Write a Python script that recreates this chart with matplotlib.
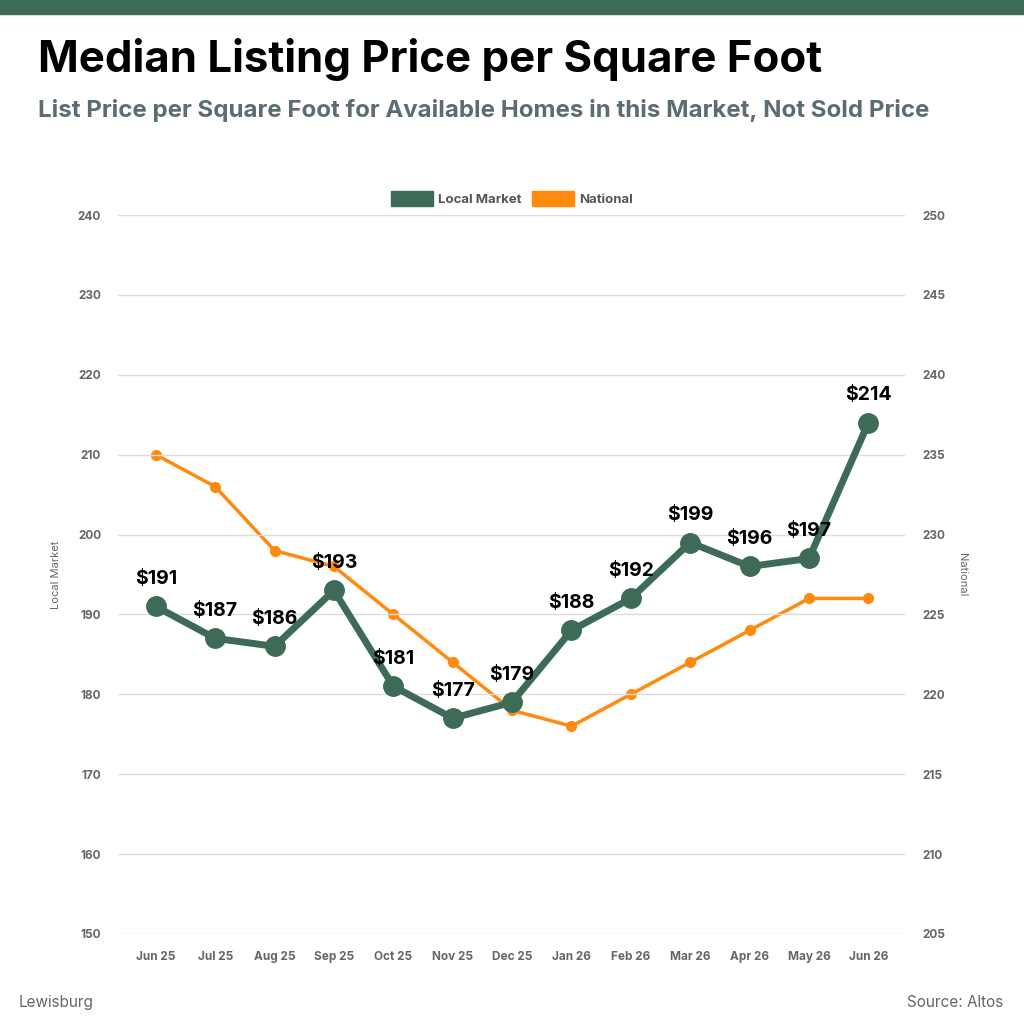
import matplotlib.pyplot as plt
from matplotlib.patches import Rectangle, Patch

months = ['Jun 25', 'Jul 25', 'Aug 25', 'Sep 25', 'Oct 25', 'Nov 25', 'Dec 25',
          'Jan 26', 'Feb 26', 'Mar 26', 'Apr 26', 'May 26', 'Jun 26']
local = [191, 187, 186, 193, 181, 177, 179, 188, 192, 199, 196, 197, 214]
national = [235, 233, 229, 228, 225, 222, 219, 218, 220, 222, 224, 226, 226]

green = '#3d6b57'
orange = '#ff8a0d'
plt.rcParams['font.family'] = ['Inter', 'DejaVu Sans']

fig = plt.figure(figsize=(10.24, 10.24), dpi=100)
fig.patches.append(Rectangle((0, 0.986), 1, 0.014, transform=fig.transFigure, color=green))
fig.text(0.037, 0.942, 'Median Listing Price per Square Foot', fontsize=31.5, fontweight='bold', va='center')
fig.text(0.037, 0.892, 'List Price per Square Foot for Available Homes in this Market, Not Sold Price',
         fontsize=17.3, fontweight='bold', color='#5d6b72', va='center')
fig.text(0.018, 0.021, 'Lewisburg', fontsize=11, color='#666666', va='center')
fig.text(0.98, 0.021, 'Source: Altos', fontsize=11, color='#666666', va='center', ha='right')

ax = fig.add_axes([0.115, 0.088, 0.769, 0.702])
ax2 = ax.twinx()
x = range(len(months))
ax.plot(x, local, color=green, lw=5, marker='o', ms=14, zorder=3, label='Local Market')
ax2.plot(x, national, color=orange, lw=2.5, marker='o', ms=7, zorder=2, label='National')
ax.set_zorder(ax2.get_zorder() + 1)
ax.patch.set_visible(False)
for i, v in enumerate(local):
    ax.annotate(f'${v}', (i, v), xytext=(0, 16), textcoords='offset points', ha='center',
                fontsize=14, fontweight='bold', zorder=5)

ax.set_ylim(150, 240)
ax.set_yticks(range(150, 241, 10))
ax2.set_ylim(205, 250)
ax2.set_yticks(range(205, 251, 5))
ax.set_xlim(-0.64, 12.62)
ax.set_xticks(list(x))
ax.set_xticklabels(months, fontsize=8.5, fontweight='bold', color='#666666')
for a in (ax, ax2):
    a.tick_params(length=0, labelsize=8.5, labelcolor='#666666', pad=12)
    for s in a.spines.values():
        s.set_visible(False)
for t in ax.get_yticklabels() + ax2.get_yticklabels():
    t.set_fontweight('bold')
ax.grid(axis='y', color='#dddddd', lw=1)
ax.set_ylabel('Local Market', fontsize=8, color='#666666', labelpad=12)
ax2.set_ylabel('National', fontsize=8, color='#666666', rotation=270, labelpad=16)

leg = fig.legend([Patch(color=green), Patch(color=orange)], ['Local Market', 'National'],
                 loc='center', bbox_to_anchor=(0.5, 0.806), ncol=2, frameon=False,
                 prop={'weight': 'bold', 'size': 9.5}, handlelength=3.2, handleheight=1.3,
                 columnspacing=0.8, handletextpad=0.4)
for t in leg.get_texts():
    t.set_color('#555555')

fig.savefig('out.png', dpi=100)
